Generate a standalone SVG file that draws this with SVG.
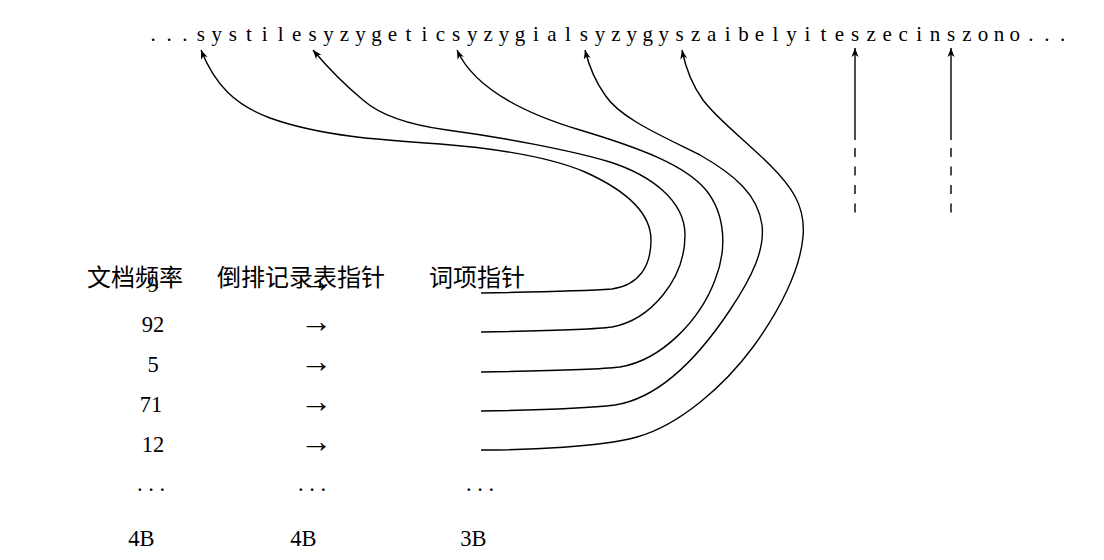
<svg xmlns="http://www.w3.org/2000/svg" width="1104" height="560" viewBox="0 0 1104 560">
  <style>
    .str { font-family: "Liberation Serif", "DejaVu Serif", serif; font-size: 21px; fill: #000; text-anchor: middle; }
    .num { font-family: "Liberation Serif", "DejaVu Serif", serif; font-size: 22.5px; fill: #000; text-anchor: middle; }
    .arr { font-family: "Liberation Serif", "DejaVu Serif", serif; font-size: 32px; fill: #000; text-anchor: middle; }
    .hdr { font-family: "Noto Sans CJK SC", "Noto Sans", sans-serif; font-size: 24px; fill: #000; }
    .conn { fill: none; stroke: #000; stroke-width: 1.4; }
    .dash { fill: none; stroke: #000; stroke-width: 1.4; stroke-dasharray: 9 9.5; }
  </style>
  <defs>
    <marker id="ah" viewBox="-10 -5 12 10" refX="0" refY="0" markerWidth="12" markerHeight="10" markerUnits="userSpaceOnUse" orient="auto">
      <path d="M0,0 L-9,-3.5 L-6.5,0 L-9,3.5 Z" fill="#000"/>
    </marker>
  </defs>
  <rect width="1104" height="560" fill="#fff"/>

  <g id="string">
    <text class="str" y="41" x="153 169 184.9 200.9 216.8 232.8 248.8 264.7 280.7 296.6 312.6 328.6 344.5 360.5 376.4 392.4 408.4 424.3 440.3 456.2 472.2 488.2 504.1 520.1 536 552 568 583.9 599.9 615.8 631.8 647.8 663.7 679.7 695.6 711.6 727.6 743.5 759.5 775.4 791.4 807.4 823.3 839.3 855.2 871.2 887.2 903.1 919.1 935 951 967 982.9 998.9 1014.8 1030.8 1046.8 1062.7">...systilesyzygeticsyzygialsyzygyszaibelyiteszecinszono...</text>
  </g>

  <g id="header">
    <text class="hdr" x="87" y="286">文档频率</text>
    <text class="hdr" x="217" y="286">倒排记录表指针</text>
    <text class="hdr" x="429" y="286">词项指针</text>
  </g>

  <g id="row1">
    <text class="num" x="153" y="292">9</text>
    <text class="arr" x="316" y="292">→</text>
  </g>
  <g id="row2">
    <text class="num" x="153" y="332">92</text>
    <text class="arr" x="316" y="332">→</text>
  </g>
  <g id="row3">
    <text class="num" x="153" y="372">5</text>
    <text class="arr" x="316" y="372">→</text>
  </g>
  <g id="row4">
    <text class="num" x="151" y="412">71</text>
    <text class="arr" x="316" y="412">→</text>
  </g>
  <g id="row5">
    <text class="num" x="153" y="452">12</text>
    <text class="arr" x="316" y="452">→</text>
  </g>
  <g id="row-more">
    <text class="num" x="151" y="491">. . .</text>
    <text class="num" x="312" y="491">. . .</text>
    <text class="num" x="480" y="491">. . .</text>
  </g>
  <g id="sizes">
    <text class="num" x="141.5" y="546">4B</text>
    <text class="num" x="303.5" y="546">4B</text>
    <text class="num" x="473.5" y="546">3B</text>
  </g>

  <g id="connectors">
    <path class="conn" marker-end="url(#ah)" d="M481,293 C540,292 585,291 612,289 C640,285 651,265 651,240 C651,212 625,190 585,172 C545,155 490,148 440,144 C380,140 320,136 270,118 C235,105 215,85 201,50"/>
    <path class="conn" marker-end="url(#ah)" d="M481,332 C540,331 590,330 612,327 C650,320 685,280 685,235 C685,200 650,175 610,162 C570,150 500,137 447,130 C410,125 380,115 363,100 C345,85 328,68 313,50"/>
    <path class="conn" marker-end="url(#ah)" d="M481,372 C545,371 595,370 620,367 C662,360 700,320 715,280 C727,250 726,215 706,190 C685,165 640,148 580,130 C530,115 475,90 457,50"/>
    <path class="conn" marker-end="url(#ah)" d="M481,411 C545,410 590,408 615,405 C660,398 700,355 730,310 C752,277 765,250 762,225 C758,195 735,175 700,155 C660,135 620,118 605,95 C593,78 588,62 585,50"/>
    <path class="conn" marker-end="url(#ah)" d="M481,450 C530,450 600,447 637,437 C680,425 725,385 753,347 C780,310 800,270 803,237 C806,205 790,185 770,165 C745,140 718,120 703,100 C690,82 685,65 682,50"/>
    <line class="conn" marker-end="url(#ah)" x1="855" y1="140" x2="855" y2="48"/>
    <line class="dash" x1="855" y1="148" x2="855" y2="213"/>
    <line class="conn" marker-end="url(#ah)" x1="951" y1="140" x2="951" y2="48"/>
    <line class="dash" x1="951" y1="148" x2="951" y2="213"/>
  </g>
</svg>
